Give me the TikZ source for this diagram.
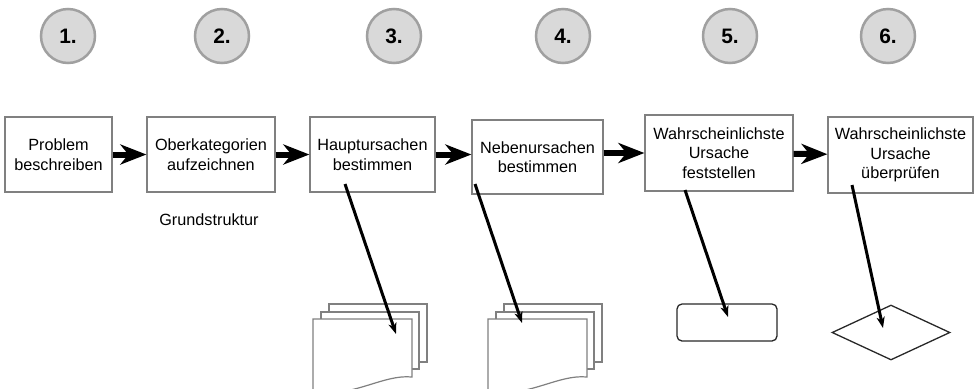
\documentclass[tikz,border=0pt]{standalone}
\usepackage{fontspec}
\setmainfont{Liberation Sans}
\usetikzlibrary{arrows.meta,shapes.geometric}
\definecolor{num_gray}{RGB}{217,217,217}
\definecolor{ring_gray}{RGB}{160,160,160}
\definecolor{box_gray}{RGB}{128,128,128}
\definecolor{shape_black}{RGB}{40,40,40}

\begin{document}
\begin{tikzpicture}[->,>={Stealth[length=11bp,width=8bp,inset=3bp]},x=1bp,y=-1bp]
    \tikzstyle{num}=[draw=ring_gray, line width=2.5bp, circle, minimum size=54bp, inner sep=0pt, fill=num_gray, text=black, font=\fontsize{21}{24}\selectfont\bfseries]
    \tikzstyle{stepbox}=[draw=box_gray, line width=1.2bp, rectangle, fill=white, inner sep=0pt, align=center, text=black, font=\fontsize{16.3}{19.5}\selectfont]
    \tikzstyle{flow}=[line width=6bp, -{Stealth[length=26bp,width=20bp,inset=8bp]}]
    \tikzstyle{link}=[line width=3bp]
    \tikzstyle{page}=[draw=box_gray, line width=1.2bp, fill=white]

    \useasboundingbox (0,0) rectangle (975,388);
    \clip (0,0) rectangle (975,388);

    % numbers
    \node[num] (n1) at (68,36)  {1.};
    \node[num] (n2) at (222,36) {2.};
    \node[num] (n3) at (394,36) {3.};
    \node[num] (n4) at (563,36) {4.};
    \node[num] (n5) at (730,36) {5.};
    \node[num] (n6) at (888,36) {6.};

    % steps
    \node[stepbox, minimum width=107bp, minimum height=75bp] (p1) at (58.5,154.5) {Problem\\beschreiben};
    \node[stepbox, minimum width=128bp, minimum height=75bp] (p2) at (211,154.5)  {Oberkategorien\\aufzeichnen};
    \node[stepbox, minimum width=125bp, minimum height=75bp] (p3) at (372.5,154.5) {Hauptursachen\\bestimmen};
    \node[stepbox, minimum width=131bp, minimum height=74bp] (p4) at (537.5,157)  {Nebenursachen\\bestimmen};
    \node[stepbox, minimum width=148bp, minimum height=76bp] (p5) at (719,153)    {Wahrscheinlichste\\Ursache\\feststellen};
    \node[stepbox, minimum width=145bp, minimum height=76bp] (p6) at (900.5,155)  {Wahrscheinlichste\\Ursache\\überprüfen};
    \node[font=\fontsize{16.3}{19.5}\selectfont] (gs) at (209,220) {Grundstruktur};

    % document stacks
    \foreach \x in {313,488} {
      \draw[page, -] (\x+16,304) rectangle (\x+114,362);
      \draw[page, -] (\x+8,312) rectangle (\x+106,369);
      \draw[page, -] (\x,319) -- (\x+99,319) -- (\x+99,377)
        .. controls (\x+70,374) and (\x+40,398) .. (\x,392) -- cycle;
    }
    \node[draw=shape_black, line width=1.3bp, rectangle, rounded corners=5bp, minimum width=100bp, minimum height=37bp] (r5) at (727,322.5) {};
    \node[draw=shape_black, line width=1.3bp, diamond, inner sep=0pt, minimum width=118bp, minimum height=55bp] (d6) at (891,332.5) {};

    \coordinate (f3) at (345,184);
    \coordinate (f4) at (475,184);
    \coordinate (f5) at (685,190);
    \coordinate (f6) at (852,185);
    \coordinate (g3) at (396,334);
    \coordinate (g4) at (522,323);
    \coordinate (g5) at (728,317);
    \coordinate (g6) at (883,328);

    \path
     (p1) edge[flow] (p2)
     (p2) edge[flow] (p3)
     (p3.east) edge[flow] (p3.east -| p4.west)
     (p5.west -| p4.east) edge[flow] (p5.west)
     (p5) edge[flow] (p6)
     (f3) edge[link] (g3)
     (f4) edge[link] (g4)
     (f5) edge[link] (g5)
     (f6) edge[link] (g6)
     ;
\end{tikzpicture}
\end{document}
